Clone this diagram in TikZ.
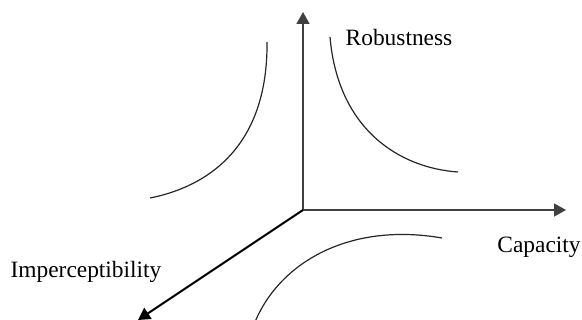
\documentclass[tikz,border=0pt]{standalone}
\usepackage{fontspec}
\setmainfont{Liberation Serif}
\usepackage{xcolor}
\usetikzlibrary{arrows.meta, positioning, calc}

\begin{document}
\begin{tikzpicture}[x=0.5pt, y=-0.5pt,
    axis/.style={draw=black!75, line width=0.8pt, -{Triangle[length=6pt, width=6.5pt]}},
    trade/.style={draw=black!85, line width=0.6pt},
    lbl/.style={inner sep=0pt, font=\fontsize{11.7}{14}\selectfont}]
    \useasboundingbox (0,0) rectangle (582,320);
    \coordinate (o) at (303,210);
    \coordinate (rob) at (303,12);
    \coordinate (cap) at (566,210);
    \coordinate (imp) at (138,320);
    \draw[axis] (o) -- (rob);
    \draw[axis] (o) -- (cap);
    \draw[axis, draw=black, line width=1pt] (o) -- (imp);
    \node[lbl] (robl) at (399,37) {Robustness};
    \node[lbl] (capl) at (539,247) {Capacity};
    \node[lbl] (impl) at (86,272) {Imperceptibility};
    % trade-off curves
    \draw[trade] (267,42) .. controls (268,140) and (215,185) .. (150,198);
    \draw[trade] (330,37) .. controls (338,130) and (400,168) .. (458,172);
    \draw[trade] (442,238) .. controls (350,222) and (280,262) .. (255,322);
\end{tikzpicture}
\end{document}
